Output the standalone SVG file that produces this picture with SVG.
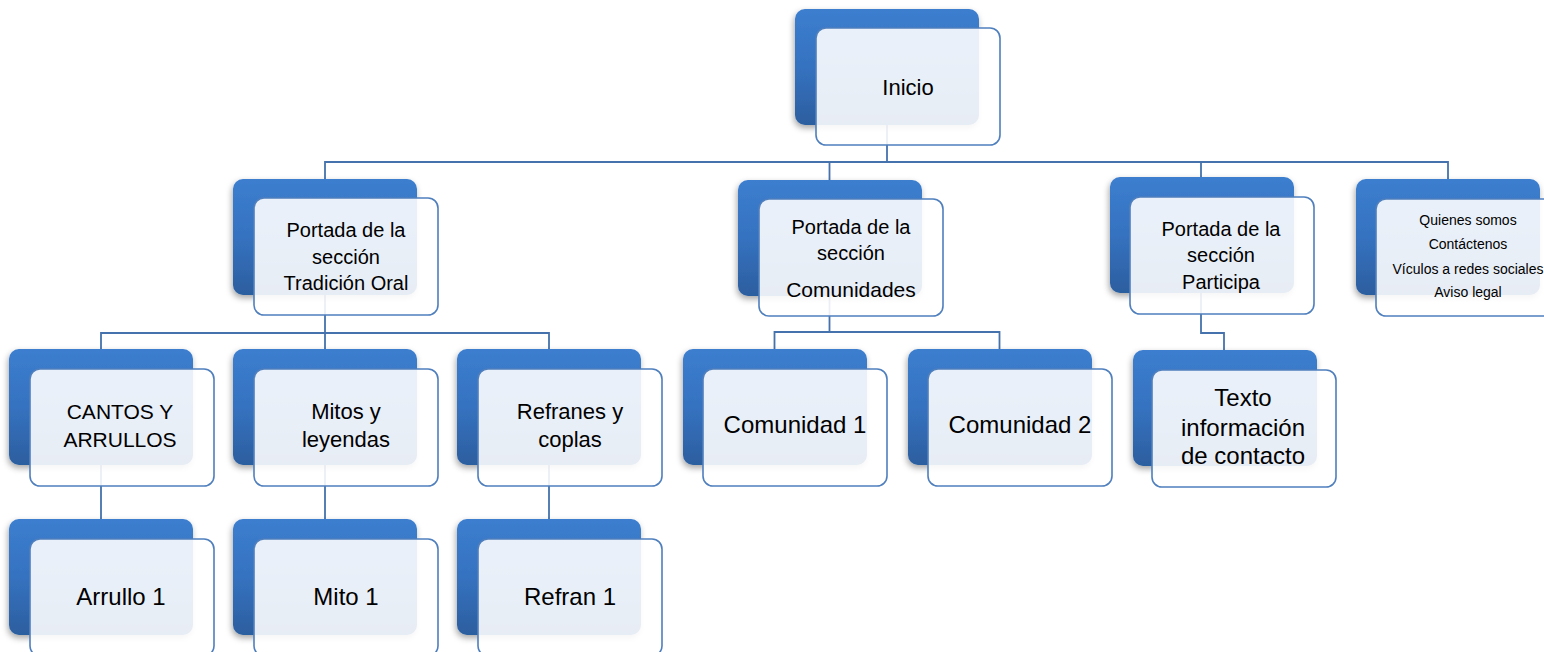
<svg xmlns="http://www.w3.org/2000/svg" width="1544" height="652" viewBox="0 0 1544 652">
<defs>
<linearGradient id="bg" x1="0" y1="0" x2="0" y2="1">
<stop offset="0" stop-color="#3c7ecf"/>
<stop offset="0.5" stop-color="#3572c0"/>
<stop offset="1" stop-color="#2c5e9f"/>
</linearGradient>
<filter id="sh" x="-20%" y="-20%" width="140%" height="150%">
<feDropShadow dx="-1" dy="3" stdDeviation="3" flood-color="#000" flood-opacity="0.35"/>
</filter>
</defs>
<style>
.back{fill:url(#bg);filter:url(#sh)}
.front{fill:#ffffff;fill-opacity:0.89;stroke:#4f7fbd;stroke-width:1.6}
.conn{fill:none;stroke:#4572ad;stroke-width:1.8}
text{font-family:"Liberation Sans",Arial,sans-serif;fill:#000;text-anchor:middle}
.s20{font-size:20px}
.s21{font-size:21px}
.s22{font-size:22px}
.s24{font-size:24px}
.s14{font-size:14px}
</style>
<rect width="1544" height="652" fill="#fff"/>
<g id="connectors">
<path class="conn" d="M887,125 V162 M325,179 V162 H1448 V179 M829.5,162 V180 M1201,162 V177"/>
<path class="conn" d="M325,295 V349 M101,349 V333 H549 V349"/>
<path class="conn" d="M829.5,296 V332 M774.5,349 V332 H999.5 V349"/>
<path class="conn" d="M1201,293 V333 H1224 V350"/>
<path class="conn" d="M101,465 V519 M325,465 V519 M549,465 V519"/>
</g>
<g id="inicio">
<rect class="back" x="795" y="9" width="184" height="116" rx="10"/>
<rect class="front" x="816" y="28" width="184" height="117" rx="10"/>
<text class="s22" x="908" y="95">Inicio</text>
</g>
<g id="tradicion">
<rect class="back" x="233" y="179" width="184" height="116" rx="10"/>
<rect class="front" x="254" y="198" width="184" height="117" rx="10"/>
<text class="s20" x="346" y="237">Portada de la</text>
<text class="s20" x="346" y="264">sección</text>
<text class="s20" x="346" y="290">Tradición Oral</text>
</g>
<g id="comunidades">
<rect class="back" x="738" y="180" width="184" height="116" rx="10"/>
<rect class="front" x="759" y="199" width="184" height="117" rx="10"/>
<text class="s20" x="851" y="234">Portada de la</text>
<text class="s20" x="851" y="260">sección</text>
<text class="s21" x="851" y="297">Comunidades</text>
</g>
<g id="participa">
<rect class="back" x="1110" y="177" width="184" height="116" rx="10"/>
<rect class="front" x="1130" y="197" width="184" height="117" rx="10"/>
<text class="s20" x="1221" y="236">Portada de la</text>
<text class="s20" x="1221" y="262">sección</text>
<text class="s20" x="1221" y="289">Participa</text>
</g>
<g id="quienes">
<rect class="back" x="1356" y="179" width="184" height="116" rx="10"/>
<rect class="front" x="1376" y="199" width="184" height="117" rx="10"/>
<text class="s14" x="1468" y="225">Quienes somos</text>
<text class="s14" x="1468" y="249">Contáctenos</text>
<text class="s14" x="1468" y="274">Vículos a redes sociales</text>
<text class="s14" x="1468" y="297">Aviso legal</text>
</g>
<g id="cantos">
<rect class="back" x="9" y="349" width="184" height="116" rx="10"/>
<rect class="front" x="30" y="369" width="184" height="117" rx="10"/>
<text class="s21" x="120" y="419">CANTOS Y</text>
<text class="s21" x="120" y="447">ARRULLOS</text>
</g>
<g id="mitos">
<rect class="back" x="233" y="349" width="184" height="116" rx="10"/>
<rect class="front" x="254" y="369" width="184" height="117" rx="10"/>
<text class="s22" x="346" y="419">Mitos y</text>
<text class="s22" x="346" y="447">leyendas</text>
</g>
<g id="refranes">
<rect class="back" x="457" y="349" width="184" height="116" rx="10"/>
<rect class="front" x="478" y="369" width="184" height="117" rx="10"/>
<text class="s22" x="570" y="419">Refranes y</text>
<text class="s22" x="570" y="447">coplas</text>
</g>
<g id="comunidad1">
<rect class="back" x="683" y="349" width="184" height="116" rx="10"/>
<rect class="front" x="703" y="369" width="184" height="117" rx="10"/>
<text class="s24" x="795" y="433">Comunidad 1</text>
</g>
<g id="comunidad2">
<rect class="back" x="908" y="349" width="184" height="116" rx="10"/>
<rect class="front" x="928" y="369" width="184" height="117" rx="10"/>
<text class="s24" x="1020" y="433">Comunidad 2</text>
</g>
<g id="texto">
<rect class="back" x="1133" y="350" width="184" height="116" rx="10"/>
<rect class="front" x="1152" y="370" width="184" height="117" rx="10"/>
<text class="s24" x="1243" y="406">Texto</text>
<text class="s24" x="1243" y="436">información</text>
<text class="s24" x="1243" y="464">de contacto</text>
</g>
<g id="arrullo1">
<rect class="back" x="9" y="519" width="184" height="116" rx="10"/>
<rect class="front" x="30" y="539" width="184" height="117" rx="10"/>
<text class="s24" x="121" y="605">Arrullo 1</text>
</g>
<g id="mito1">
<rect class="back" x="233" y="519" width="184" height="116" rx="10"/>
<rect class="front" x="254" y="539" width="184" height="117" rx="10"/>
<text class="s24" x="346" y="605">Mito 1</text>
</g>
<g id="refran1">
<rect class="back" x="457" y="519" width="184" height="116" rx="10"/>
<rect class="front" x="478" y="539" width="184" height="117" rx="10"/>
<text class="s24" x="570" y="605">Refran 1</text>
</g>
</svg>
